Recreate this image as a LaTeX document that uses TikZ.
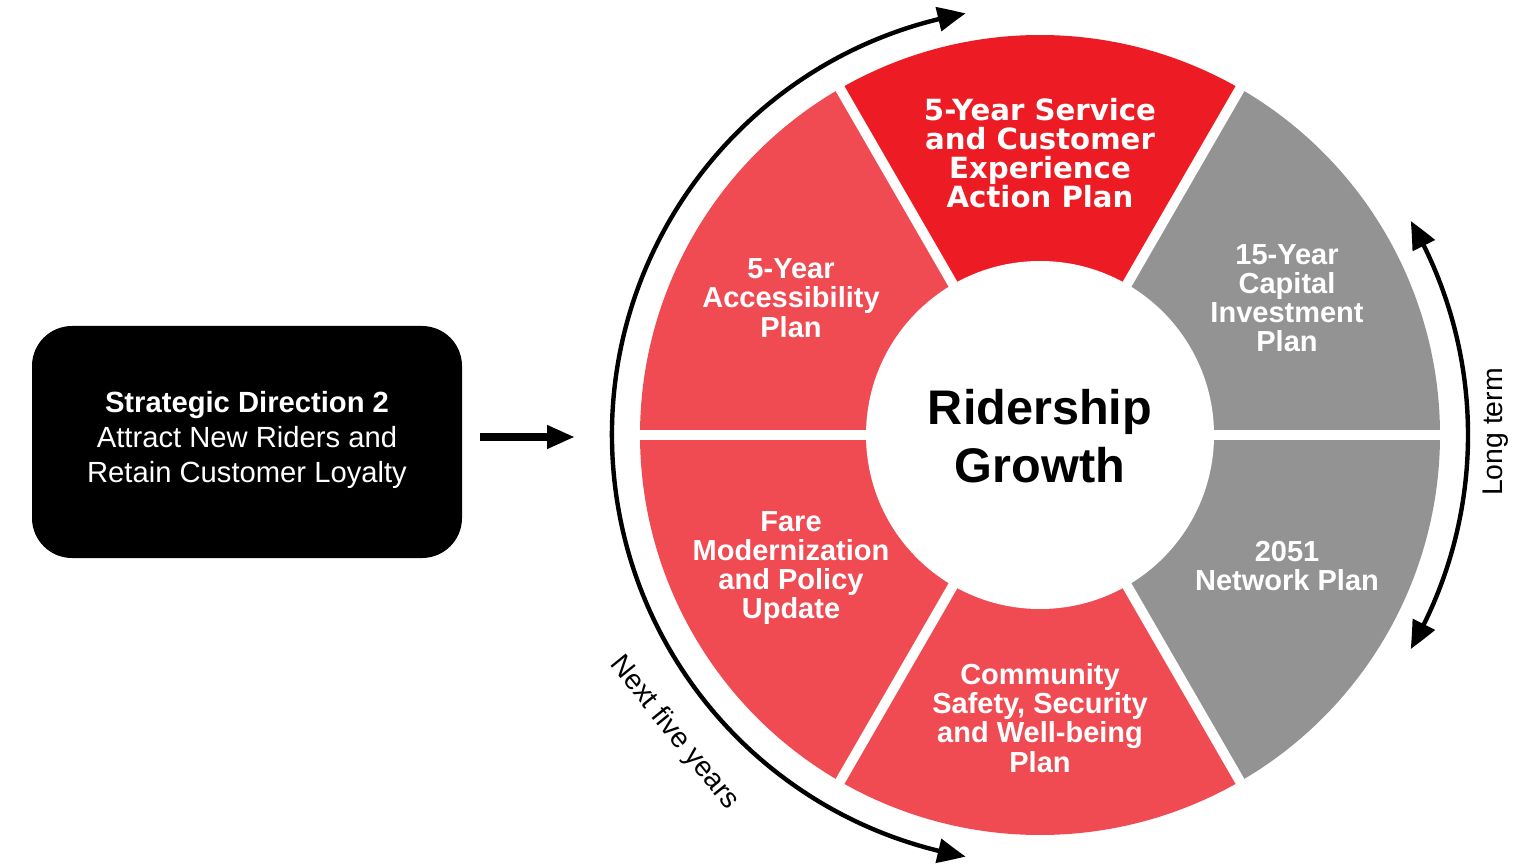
\documentclass[tikz,border=0pt]{standalone}
\usepackage{fontspec}
\setmainfont{Liberation Sans}
\newfontfamily\topfont{DejaVu Sans}
\usetikzlibrary{arrows.meta,bending}
\definecolor{redtop}{HTML}{ED1C24}
\definecolor{redlight}{HTML}{F04B53}
\definecolor{segray}{HTML}{939393}
\tikzset{
  segtext/.style={text=white,align=center,font=\fontsize{14.5}{14.6}\selectfont\bfseries},
  toptext/.style={text=white,align=center,font=\topfont\fontsize{14.6}{14.6}\selectfont\bfseries},
  gapline/.style={white,line width=5pt},
  arcline/.style={line width=2.2pt,{Triangle[length=14pt,width=12pt,bend]}-{Triangle[length=14pt,width=12pt,bend]}},
  bigarrow/.style={line width=4pt,-{Triangle[length=14pt,width=11pt]}},
  sdbox/.style={fill=black,rounded corners=20pt,minimum width=215pt,minimum height=116pt},
  sidelabel/.style={font=\fontsize{14.2}{15}\selectfont}
}
\begin{document}
\begin{tikzpicture}[x=0.5pt,y=0.5pt]
\useasboundingbox (0,0) rectangle (1524,863);
\coordinate (c) at (1040,428);
% sectors
\fill[segray]   (c) -- ++(0:200pt)   arc[start angle=0,end angle=60,radius=200pt] -- cycle;
\fill[redtop]   (c) -- ++(60:200pt)  arc[start angle=60,end angle=120,radius=200pt] -- cycle;
\fill[redlight] (c) -- ++(120:200pt) arc[start angle=120,end angle=180,radius=200pt] -- cycle;
\fill[redlight] (c) -- ++(180:200pt) arc[start angle=180,end angle=240,radius=200pt] -- cycle;
\fill[redlight] (c) -- ++(240:200pt) arc[start angle=240,end angle=300,radius=200pt] -- cycle;
\fill[segray]   (c) -- ++(300:200pt) arc[start angle=300,end angle=360,radius=200pt] -- cycle;
% gaps
\foreach \a in {0,60,120,180,240,300}
  \draw[gapline] (c) -- ++(\a:205pt);
\fill[white] (c) circle[radius=87pt];
% arcs
\draw[arcline] (c) ++(100:214pt) arc[start angle=100,end angle=260,radius=214pt];
\draw[arcline] (c) ++(-30:214pt) arc[start angle=-30,end angle=30,radius=214pt];
% texts
\node[toptext] (t1) at (1040,710) {5-Year Service\\and Customer\\Experience\\Action Plan};
\node[segtext] (t2) at (791,565) {5-Year\\Accessibility\\Plan};
\node[segtext] (t3) at (791,295) {Fare\\Modernization\\and Policy\\Update};
\node[segtext] (t4) at (1040,145) {Community\\Safety, Security\\and Well-being\\Plan};
\node[segtext] (t5) at (1287,297) {2051\\Network Plan};
\node[segtext] (t6) at (1287,565) {15-Year\\Capital\\Investment\\Plan};
\node[align=center,font=\fontsize{24.3}{29}\selectfont\bfseries] (rg) at (1040,427) {Ridership\\Growth};
% left box
\node[sdbox] (sd) at (247,421) {};
\node[text=white,align=center,font=\fontsize{14.6}{17.3}\selectfont] (sdt) at (247,423) {\textbf{Strategic Direction 2}\\Attract New Riders and\\Retain Customer Loyalty};
\path (sd.east) ++(9pt,2.5pt) coordinate (astart);
\coordinate (aend) at (575,426);
\draw[bigarrow] (astart) -- (aend);
% side labels
\node[sidelabel,rotate=90] (lt) at (1496,431) {Long term};
\node[sidelabel,rotate=-51] (nfy) at (674,130) {Next five years};
\end{tikzpicture}
\end{document}
